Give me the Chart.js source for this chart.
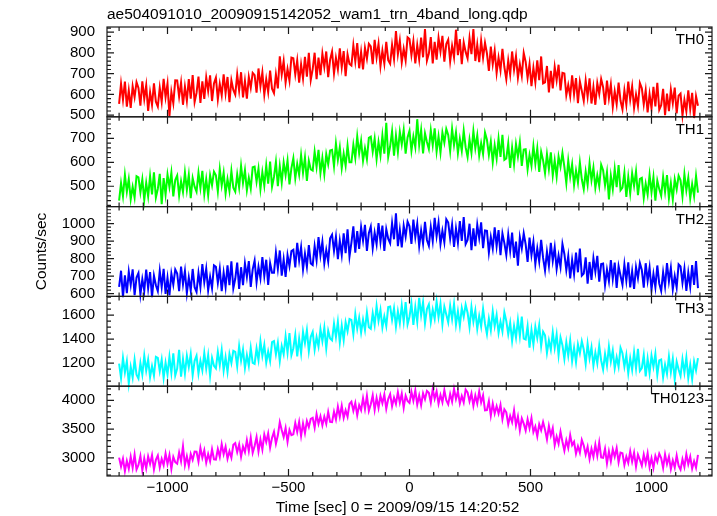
<!DOCTYPE html>
<html>
<head>
<meta charset="utf-8">
<script src="https://cdn.jsdelivr.net/npm/chart.js@4/dist/chart.umd.min.js"></script>
<style>
  html, body { margin: 0; padding: 0; background: #fff; }
  #wrap { width: 717px; height: 516px; }
</style>
</head>
<body>
<div id="wrap"><canvas id="lc" width="717" height="516"></canvas></div>
<script>
'use strict';
// light curve, 5 energy bands, time in sec from 2009/09/15 14:20:52
var times = [
  -1200,-1192,-1184,-1176,-1168,-1160,-1152,-1144,-1136,-1128,
  -1120,-1112,-1104,-1096,-1088,-1080,-1072,-1064,-1056,-1048,
  -1040,-1032,-1024,-1016,-1008,-1000,-992,-984,-976,-968,
  -960,-952,-944,-936,-928,-920,-912,-904,-896,-888,
  -880,-872,-864,-856,-848,-840,-832,-824,-816,-808,
  -800,-792,-784,-776,-768,-760,-752,-744,-736,-728,
  -720,-712,-704,-696,-688,-680,-672,-664,-656,-648,
  -640,-632,-624,-616,-608,-600,-592,-584,-576,-568,
  -560,-552,-544,-536,-528,-520,-512,-504,-496,-488,
  -480,-472,-464,-456,-448,-440,-432,-424,-416,-408,
  -400,-392,-384,-376,-368,-360,-352,-344,-336,-328,
  -320,-312,-304,-296,-288,-280,-272,-264,-256,-248,
  -240,-232,-224,-216,-208,-200,-192,-184,-176,-168,
  -160,-152,-144,-136,-128,-120,-112,-104,-96,-88,
  -80,-72,-64,-56,-48,-40,-32,-24,-16,-8,
  0,8,16,24,32,40,48,56,64,72,
  80,88,96,104,112,120,128,136,144,152,
  160,168,176,184,192,200,208,216,224,232,
  240,248,256,264,272,280,288,296,304,312,
  320,328,336,344,352,360,368,376,384,392,
  400,408,416,424,432,440,448,456,464,472,
  480,488,496,504,512,520,528,536,544,552,
  560,568,576,584,592,600,608,616,624,632,
  640,648,656,664,672,680,688,696,704,712,
  720,728,736,744,752,760,768,776,784,792,
  800,808,816,824,832,840,848,856,864,872,
  880,888,896,904,912,920,928,936,944,952,
  960,968,976,984,992,1000,1008,1016,1024,1032,
  1040,1048,1056,1064,1072,1080,1088,1096,1104,1112,
  1120,1128,1136,1144,1152,1160,1168,1176,1184,1192
];

var th0 = [
  554,652,574,662,541,620,535,639,587,659,
  631,546,663,578,644,520,611,549,653,565,
  541,632,564,675,587,652,495,613,557,668,
  667,589,657,550,638,569,674,579,693,563,
  607,686,559,663,578,682,617,692,568,653,
  681,576,651,596,697,606,684,563,668,622,
  599,697,619,707,586,665,580,684,632,704,
  693,608,725,640,706,598,673,611,715,627,
  606,697,629,784,696,761,657,722,666,777,
  774,696,764,657,745,676,781,686,800,670,
  722,801,674,778,693,797,732,807,683,768,
  806,701,776,721,822,731,809,688,793,747,
  739,837,759,847,726,805,720,824,772,844,
  831,746,863,778,844,736,811,749,853,765,
  748,839,771,905,794,859,755,820,764,875,
  867,789,857,750,838,769,874,779,915,763,
  797,876,749,853,768,872,807,882,758,843,
  864,759,834,779,912,789,867,746,851,805,
  774,872,794,915,761,840,755,859,777,849,
  798,713,830,745,811,703,778,716,820,732,
  673,764,696,807,719,784,680,745,689,800,
  757,679,747,640,728,659,764,669,783,653,
  658,737,610,714,629,733,668,743,619,704,
  701,596,646,591,692,601,679,558,663,617,
  569,667,589,677,556,635,550,654,602,674,
  635,550,667,582,648,540,615,553,657,569,
  528,619,551,662,574,639,535,600,544,655,
  630,552,620,513,601,532,637,542,656,526,
  548,627,500,604,519,623,558,633,509,594,
  604,499,574,519,620,529,607,486,591,545
];

var th1 = [
  440,513,458,548,477,530,446,498,453,542,
  537,474,529,443,514,458,542,466,558,453,
  489,552,425,534,465,549,497,557,458,526,
  545,461,521,476,558,485,548,450,534,498,
  477,556,493,564,467,530,462,546,504,561,
  546,478,572,504,557,470,530,480,564,494,
  477,550,495,585,514,567,483,535,490,579,
  582,519,574,488,559,503,587,511,603,498,
  539,602,500,584,515,599,547,607,508,576,
  617,533,593,548,630,557,620,522,606,570,
  565,644,581,652,555,618,550,634,592,649,
  652,584,678,610,663,576,636,586,670,600,
  600,673,618,708,637,690,606,658,613,702,
  707,644,699,613,684,628,712,636,765,623,
  667,730,628,712,643,727,675,735,636,704,
  732,648,708,663,780,672,735,637,721,685,
  655,734,671,742,645,708,640,724,682,739,
  714,646,740,672,725,638,698,648,732,662,
  622,695,640,730,659,712,628,680,635,724,
  694,631,686,600,671,615,699,623,715,610,
  616,679,577,661,592,676,624,684,585,653,
  655,571,631,586,668,595,658,560,644,608,
  555,634,571,642,545,608,540,624,582,639,
  581,513,607,539,592,505,565,515,599,529,
  488,561,506,596,525,578,494,546,501,590,
  567,504,559,445,544,488,572,496,588,483,
  494,557,455,539,470,554,502,562,463,531,
  535,451,511,466,548,475,538,440,524,488,
  460,539,476,547,450,513,445,529,487,544,
  525,457,551,483,536,449,509,459,543,473
];

var th2 = [
  638,731,580,704,602,726,649,739,591,692,
  718,594,683,617,738,630,723,579,703,648,
  614,730,637,742,598,691,590,715,652,738,
  715,614,754,653,730,602,692,617,741,637,
  610,718,637,769,665,743,619,696,630,762,
  754,661,742,614,720,638,762,649,785,630,
  685,778,627,751,649,773,696,786,638,739,
  789,665,754,688,809,701,794,650,774,719,
  719,835,742,847,703,796,695,820,757,843,
  851,750,890,789,866,738,828,753,877,773,
  764,872,791,923,819,897,773,850,784,916,
  937,844,925,797,903,821,945,832,968,813,
  892,985,834,958,856,980,903,993,845,946,
  984,860,949,883,1004,896,989,845,969,914,
  888,1004,911,1060,872,965,864,989,926,1012,
  985,884,1024,923,1000,872,962,887,1011,907,
  874,982,901,1033,929,1007,883,960,894,1026,
  1007,914,995,867,973,891,1015,902,1038,883,
  907,1000,849,973,871,995,918,1008,860,961,
  959,835,924,858,979,871,964,820,944,889,
  821,937,844,949,805,898,760,922,859,945,
  882,781,921,820,897,769,859,784,908,804,
  732,840,759,891,787,865,741,818,752,884,
  827,734,815,687,793,711,835,722,858,703,
  715,808,657,781,679,803,726,816,668,769,
  772,648,737,671,792,684,777,633,757,702,
  651,767,674,779,635,728,627,752,689,775,
  735,634,774,673,750,622,712,637,761,657,
  615,723,642,774,670,748,624,701,635,767,
  755,662,743,615,721,639,763,650,786,631
];

var th3 = [
  1196,1076,1243,1122,1215,1030,1169,1080,1228,1104,
  1071,1201,1104,1262,1138,1230,1082,1175,1095,1253,
  1244,1133,1229,1077,1203,1105,1253,1118,1281,1096,
  1154,1310,1086,1234,1112,1260,1167,1275,1099,1219,
  1261,1113,1218,1140,1285,1155,1266,1094,1242,1177,
  1155,1294,1183,1309,1137,1248,1127,1276,1201,1303,
  1294,1174,1341,1220,1313,1159,1267,1178,1326,1202,
  1193,1323,1226,1384,1260,1352,1204,1297,1217,1375,
  1384,1273,1369,1217,1343,1275,1423,1288,1451,1266,
  1324,1435,1256,1404,1282,1460,1367,1475,1299,1419,
  1460,1312,1417,1339,1484,1384,1495,1323,1471,1406,
  1390,1529,1418,1544,1372,1513,1392,1541,1466,1568,
  1561,1441,1608,1487,1580,1456,1564,1475,1623,1499,
  1486,1616,1519,1677,1553,1645,1497,1590,1510,1668,
  1672,1561,1657,1505,1631,1533,1681,1546,1709,1524,
  1587,1698,1519,1667,1545,1745,1600,1708,1532,1652,
  1690,1542,1647,1569,1714,1584,1695,1523,1671,1606,
  1540,1679,1568,1694,1522,1633,1512,1661,1586,1688,
  1621,1501,1668,1547,1640,1486,1594,1505,1653,1529,
  1441,1571,1474,1632,1508,1600,1452,1545,1465,1623,
  1552,1441,1537,1385,1511,1413,1561,1426,1589,1404,
  1397,1508,1329,1477,1355,1503,1410,1518,1342,1462,
  1433,1285,1390,1312,1457,1327,1438,1266,1414,1349,
  1235,1374,1263,1389,1217,1328,1207,1356,1281,1383,
  1314,1194,1361,1240,1333,1179,1287,1198,1346,1222,
  1146,1276,1179,1337,1213,1305,1157,1250,1170,1328,
  1282,1171,1267,1115,1241,1143,1291,1156,1319,1134,
  1157,1268,1089,1237,1115,1263,1170,1278,1102,1222,
  1230,1082,1187,1109,1254,1124,1235,1063,1211,1146,
  1093,1232,1121,1247,1075,1186,1065,1214,1139,1241
];

var th0123 = [
  3004,2848,2983,2770,2947,2809,3017,2827,3056,2796,
  2876,3032,2780,2988,2816,3024,2894,3045,2798,2967,
  3041,2833,2981,2872,3075,2893,3049,2807,3015,2924,
  2899,3094,2938,3200,2873,3029,2860,3068,2964,3107,
  3105,2936,3170,3001,3131,2915,3066,2941,3149,2975,
  2970,3152,3017,3238,3064,3194,2986,3116,3004,3225,
  3254,3098,3233,3020,3197,3099,3307,3117,3346,3086,
  3206,3362,3110,3318,3146,3404,3274,3425,3178,3347,
  3451,3243,3391,3620,3485,3363,3519,3277,3485,3394,
  3409,3604,3448,3625,3383,3599,3430,3638,3534,3677,
  3695,3526,3760,3591,3721,3565,3716,3591,3799,3625,
  3620,3802,3667,3888,3714,3904,3696,3826,3714,3935,
  3974,3818,3953,3740,3917,3829,4037,3847,4076,3816,
  3931,4087,3835,4043,3871,4079,3949,4100,3853,4022,
  4106,3898,4046,3937,4140,3958,4114,3872,4080,3989,
  3954,4149,3993,4170,3928,4084,3915,4123,4019,4162,
  4130,3961,4195,4026,4156,3940,4091,3966,4174,4000,
  3930,4112,3977,4198,4024,4154,3946,4076,3964,4185,
  4139,3983,4118,3905,4082,3944,4152,3962,4086,3826,
  3831,3987,3735,3943,3771,3899,3769,3920,3673,3842,
  3791,3583,3731,3622,3825,3563,3719,3477,3685,3594,
  3474,3669,3513,3690,3448,3544,3375,3583,3479,3622,
  3490,3321,3555,3386,3516,3220,3371,3246,3454,3280,
  3125,3307,3172,3393,3219,3279,3071,3201,3089,3310,
  3214,3058,3193,2980,3157,3019,3227,3037,3266,3006,
  3001,3157,2905,3113,2941,3149,3019,3170,2923,3092,
  3081,2873,3021,2912,3115,2933,3089,2847,3055,2964,
  2864,3059,2903,3080,2838,2994,2825,3033,2929,3072,
  2995,2826,3060,2891,3021,2805,2956,2831,3039,2865,
  2795,2977,2842,3063,2889,3019,2811,2941,2829,3050
];

var bandNames = ['TH0', 'TH1', 'TH2', 'TH3', 'TH0123'];
var bandValues = [th0, th1, th2, th3, th0123];
var bandColors = ['#ff0000', '#00ff00', '#0000ff', '#00ffff', '#ff00ff'];
var yMins = [492, 415, 584, 1007, 2684];
var yMaxs = [925, 790, 1098, 1757, 4245];
var yMajor = [100, 100, 100, 200, 500];
var yMinor = [20, 20, 20, 50, 100];
var xMin = -1250, xMax = 1250;
var xTickVals = [-1000, -500, 0, 500, 1000];

var FONT = "'Liberation Sans', Arial, Helvetica, sans-serif";
Chart.defaults.font.family = FONT;
Chart.defaults.color = '#000';

function minusLabel(v) {
    return v < 0 ? '\u2212' + Math.abs(v) : String(v);
}

var datasets = [];
var scales = {
    x: {
        type: 'linear', position: 'bottom', min: xMin, max: xMax,
        grid: { display: false, drawTicks: false }, border: { display: false },
        ticks: { autoSkip: false, padding: 3, font: { size: 15 }, color: '#000', callback: minusLabel },
        afterBuildTicks: function (s) { s.ticks = xTickVals.map(function (v) { return { value: v }; }); },
        afterFit: function (s) { s.height = 40; }
    }
};
// bottom panel first: stacked scales get placed top-down in reverse order
for (var i = bandNames.length - 1; i >= 0; i--) {
    var pts = [];
    for (var k = 0; k < times.length; k++) {
        pts.push({ x: times[k], y: bandValues[i][k] });
    }
    datasets.push({
        label: bandNames[i], data: pts, yAxisID: 'y' + i,
        borderColor: bandColors[i], borderWidth: 2,
        pointRadius: 0, tension: 0, fill: false, clip: false
    });
    (function (n) {
        scales['y' + n] = {
            type: 'linear', position: 'left', stack: 'bands', stackWeight: 1,
            min: yMins[n], max: yMaxs[n],
            grid: { display: false, drawTicks: false }, border: { display: false },
            ticks: { autoSkip: false, padding: 12, font: { size: 15 }, color: '#000',
                     callback: function (v) { return String(v); } },
            afterBuildTicks: function (s) {
                var t = [];
                for (var v = Math.ceil(yMins[n] / yMajor[n]) * yMajor[n]; v <= yMaxs[n]; v += yMajor[n]) {
                    t.push({ value: v });
                }
                s.ticks = t;
            },
            afterFit: function (s) { s.width = 107; }
        };
    })(i);
}

// frames, inward ticks on all sides, band names, axis titles
var panelFrame = {
    id: 'panelFrame',
    afterDatasetsDraw: function (chart) {
        var ctx = chart.ctx, area = chart.chartArea, xs = chart.scales.x;
        ctx.save();
        ctx.strokeStyle = '#1a1a1a';
        ctx.lineWidth = 1.2;
        for (var i = 0; i < bandNames.length; i++) {
            var ys = chart.scales['y' + i];
            ctx.strokeRect(area.left, ys.top, area.right - area.left, ys.bottom - ys.top);
            ctx.beginPath();
            for (var v = -1200; v <= 1200; v += 100) {
                var px = xs.getPixelForValue(v);
                var len = (v % 500 === 0) ? 7 : 4;
                ctx.moveTo(px, ys.bottom); ctx.lineTo(px, ys.bottom - len);
                ctx.moveTo(px, ys.top); ctx.lineTo(px, ys.top + len);
            }
            var start = Math.ceil(yMins[i] / yMinor[i]) * yMinor[i];
            for (var w = start; w <= yMaxs[i]; w += yMinor[i]) {
                var py = ys.getPixelForValue(w);
                var l2 = (w % yMajor[i] === 0) ? 7 : 4;
                ctx.moveTo(area.left, py); ctx.lineTo(area.left + l2, py);
                ctx.moveTo(area.right, py); ctx.lineTo(area.right - l2, py);
            }
            ctx.stroke();
            ctx.fillStyle = '#000';
            ctx.font = '15px ' + FONT;
            ctx.textAlign = 'right';
            ctx.textBaseline = 'alphabetic';
            ctx.fillText(bandNames[i], area.right - 8, ys.top + 17);
        }
        ctx.font = '15.5px ' + FONT;
        ctx.textAlign = 'center';
        ctx.textBaseline = 'alphabetic';
        ctx.fillText('Time [sec] 0 = 2009/09/15 14:20:52', 397.5, 511.5);
        ctx.translate(46, (area.top + area.bottom) / 2);
        ctx.rotate(-Math.PI / 2);
        ctx.fillText('Counts/sec', 0, 0);
        ctx.restore();
    }
};

var chart = new Chart(document.getElementById('lc'), {
    type: 'line',
    data: { datasets: datasets },
    options: {
        responsive: false,
        animation: false,
        devicePixelRatio: 1,
        layout: { padding: { left: 0, right: 5, top: 0, bottom: 0 } },
        plugins: {
            legend: { display: false },
            tooltip: { enabled: false },
            title: {
                display: true, align: 'start', fullSize: false,
                text: 'ae504091010_20090915142052_wam1_trn_4band_long.qdp',
                color: '#000', font: { size: 15.5, weight: 'normal', lineHeight: 1.2 },
                padding: { top: 5, bottom: 3.4 }
            }
        },
        scales: scales
    },
    plugins: [panelFrame]
});
</script>
</body>
</html>
